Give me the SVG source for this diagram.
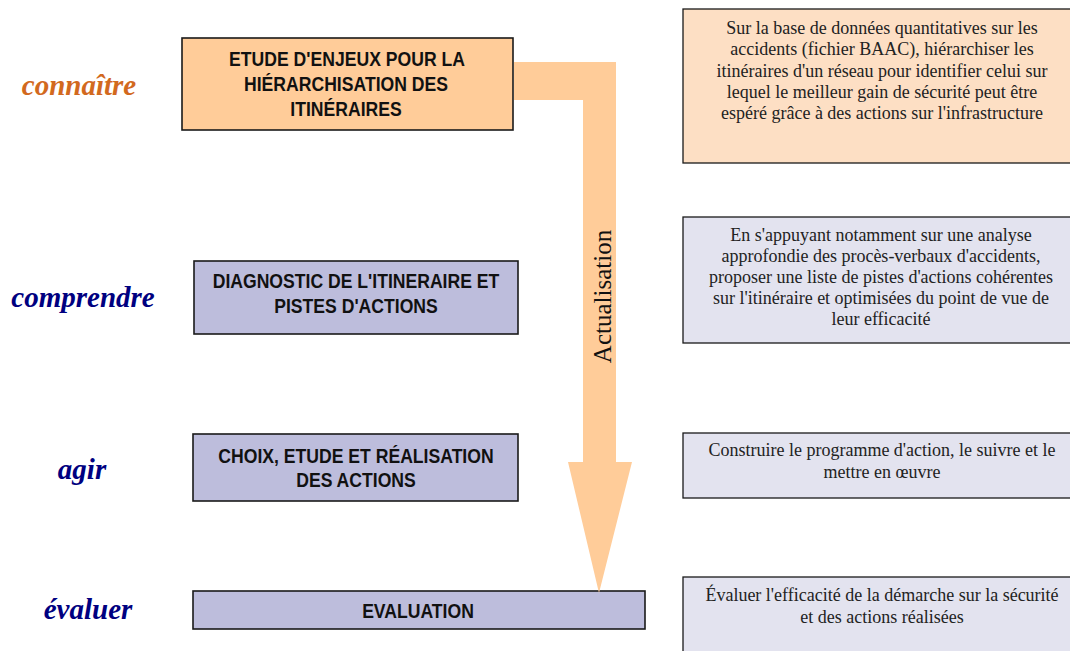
<svg xmlns="http://www.w3.org/2000/svg" width="1070" height="651" viewBox="0 0 1070 651">
<style>
.bx{stroke:#1a1a1a;stroke-width:1.6}
.org{fill:#FFCC99}
.lav{fill:#BDBDDC}
.dorg{fill:#FDDFC4;stroke:#1a1a1a;stroke-width:1.3}
.dlav{fill:#E3E3EF;stroke:#1a1a1a;stroke-width:1.3}
.t{font-family:"Liberation Sans",Arial,sans-serif;font-weight:bold;font-size:20px;fill:#111;text-anchor:middle}
.desc{font-family:"Liberation Serif","Times New Roman",serif;font-size:18px;fill:#222;text-anchor:middle}
.lab{font-family:"Liberation Serif","Times New Roman",serif;font-weight:bold;font-style:italic;font-size:29px;text-anchor:middle}
</style>
<rect width="1070" height="651" fill="#fff"/>
<g id="labels">
<text class="lab" x="79" y="95" fill="#D2691E">connaître</text>
<text class="lab" x="83" y="307" fill="#000080">comprendre</text>
<text class="lab" x="82" y="479" fill="#000080">agir</text>
<text class="lab" x="88" y="619" fill="#000080">évaluer</text>
</g>
<g id="n1">
<rect class="bx org" x="182" y="38" width="331" height="92"/>
<text class="t" transform="translate(347,66) scale(0.88,1)">ETUDE D'ENJEUX POUR LA</text>
<text class="t" transform="translate(346,91) scale(0.88,1)">HIÉRARCHISATION DES</text>
<text class="t" transform="translate(346,116) scale(0.88,1)">ITINÉRAIRES</text>
</g>
<g id="n2">
<rect class="bx lav" x="194" y="261" width="324" height="73"/>
<text class="t" transform="translate(356,288) scale(0.88,1)">DIAGNOSTIC DE L'ITINERAIRE ET</text>
<text class="t" transform="translate(356,313) scale(0.88,1)">PISTES D'ACTIONS</text>
</g>
<g id="n3">
<rect class="bx lav" x="193" y="434" width="325" height="67"/>
<text class="t" transform="translate(356,463) scale(0.88,1)">CHOIX, ETUDE ET RÉALISATION</text>
<text class="t" transform="translate(356,487) scale(0.88,1)">DES ACTIONS</text>
</g>
<g id="n4">
<rect class="bx lav" x="193" y="591" width="452" height="38"/>
<text class="t" transform="translate(418,618) scale(0.88,1)">EVALUATION</text>
</g>
<g id="dA">
<rect class="dorg" x="683" y="9" width="392" height="154"/>
<text class="desc" x="882" y="34">Sur la base de données quantitatives sur les</text>
<text class="desc" x="882" y="55">accidents (fichier BAAC), hiérarchiser les</text>
<text class="desc" x="882" y="77">itinéraires d'un réseau pour identifier celui sur</text>
<text class="desc" x="882" y="98">lequel le meilleur gain de sécurité peut être</text>
<text class="desc" x="882" y="119">espéré grâce à des actions sur l'infrastructure</text>
</g>
<g id="dB">
<rect class="dlav" x="683" y="217" width="392" height="126"/>
<text class="desc" x="881" y="241">En s'appuyant notamment sur une analyse</text>
<text class="desc" x="881" y="262">approfondie des procès-verbaux d'accidents,</text>
<text class="desc" x="881" y="283">proposer une liste de pistes d'actions cohérentes</text>
<text class="desc" x="881" y="304">sur l'itinéraire et optimisées du point de vue de</text>
<text class="desc" x="881" y="325">leur efficacité</text>
</g>
<g id="dC">
<rect class="dlav" x="683" y="433" width="392" height="65"/>
<text class="desc" x="882" y="456">Construire le programme d'action, le suivre et le</text>
<text class="desc" x="882" y="478">mettre en œuvre</text>
</g>
<g id="dD">
<rect class="dlav" x="683" y="577" width="392" height="80"/>
<text class="desc" x="882" y="601">Évaluer l'efficacité de la démarche sur la sécurité</text>
<text class="desc" x="882" y="623">et des actions réalisées</text>
</g>
<g id="connectors">
<polygon points="514,62 616,62 616,462 632,462 599,593 568,462 583,462 583,100 514,100" fill="#FFCC99"/>
<text x="0" y="0" transform="translate(611,296.5) rotate(-90)" font-family="'Liberation Serif','Times New Roman',serif" font-size="25" fill="#111" text-anchor="middle">Actualisation</text>
</g>
</svg>
